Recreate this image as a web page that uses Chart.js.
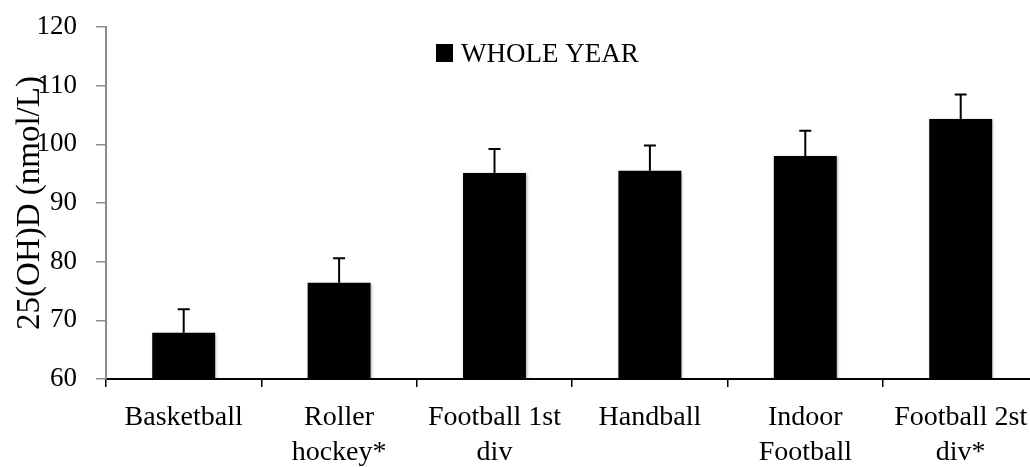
<!DOCTYPE html>
<html>
<head>
<meta charset="utf-8">
<script src="https://cdn.jsdelivr.net/npm/chart.js@4"></script>
<style>
  html, body { margin: 0; padding: 0; background: #fff; overflow: hidden; }
  #wrap { width: 1040px; height: 467px; }
</style>
</head>
<body>
<div id="wrap"><canvas id="chart" width="1040" height="467"></canvas></div>
<script>
// 25(OH)D by sport, whole year, mean + upper SD
const categories = ['Basketball', ['Roller', 'hockey*'], ['Football 1st', 'div'], 'Handball', ['Indoor', 'Football'], ['Football 2st', 'div*']];
const wholeYear = [67.9, 76.4, 95.1, 95.5, 98.0, 104.3];
const wholeYearErr = [4.0, 4.2, 4.1, 4.3, 4.3, 4.2];
const yTicks = [60, 70, 80, 90, 100, 110, 120];

const FONT = 'Liberation Serif';

// upper error bars, drawn through the y scale
const errorBars = {
  id: 'errorBars',
  afterDatasetsDraw(chart) {
    const ctx = chart.ctx;
    const meta = chart.getDatasetMeta(0);
    const y = chart.scales.y;
    ctx.save();
    ctx.strokeStyle = '#000';
    ctx.lineWidth = 2;
    meta.data.forEach((bar, i) => {
      const top = y.getPixelForValue(wholeYear[i] + wholeYearErr[i]);
      ctx.beginPath();
      ctx.moveTo(bar.x, bar.y);
      ctx.lineTo(bar.x, top);
      ctx.moveTo(bar.x - 6, top);
      ctx.lineTo(bar.x + 6, top);
      ctx.stroke();
    });
    ctx.restore();
  }
};

// legend drawn inside the plot, a bit left of centre
const innerLegend = {
  id: 'innerLegend',
  afterDraw(chart) {
    const ctx = chart.ctx;
    const ds = chart.data.datasets[0];
    ctx.save();
    ctx.fillStyle = ds.backgroundColor;
    ctx.fillRect(436, 44, 17, 18);
    ctx.fillStyle = '#000';
    ctx.font = '27px "' + FONT + '"';
    ctx.textBaseline = 'alphabetic';
    ctx.fillText(ds.label, 461, 62);
    ctx.restore();
  }
};

// soft shadow behind the bars, like the original
const barShadow = {
  id: 'barShadow',
  beforeDatasetsDraw(chart) {
    const ctx = chart.ctx;
    ctx.save();
    ctx.shadowColor = 'rgba(0,0,0,0.35)';
    ctx.shadowBlur = 3;
    ctx.shadowOffsetX = 1;
    ctx.shadowOffsetY = 1;
  },
  afterDatasetsDraw(chart) {
    chart.ctx.restore();
  }
};

function noScalePadding(scale) {
  scale.paddingTop = 0;
  scale.paddingBottom = 0;
  scale.paddingLeft = 0;
  scale.paddingRight = 0;
}

new Chart(document.getElementById('chart'), {
  type: 'bar',
  data: {
    labels: categories,
    datasets: [{
      label: 'WHOLE YEAR',
      data: wholeYear,
      backgroundColor: '#000',
      borderWidth: 0,
      barPercentage: 0.405,
      categoryPercentage: 1
    }]
  },
  options: {
    responsive: false,
    animation: false,
    devicePixelRatio: 1,
    layout: { padding: { top: 27, right: 1.6, left: 0, bottom: 0 } },
    plugins: {
      legend: { display: false },
      tooltip: { enabled: false }
    },
    scales: {
      x: {
        afterFit: scale => { scale.height = 88; noScalePadding(scale); },
        border: { color: '#000', width: 2 },
        grid: {
          offset: true,
          drawOnChartArea: false,
          tickLength: 8,
          color: '#000',
          lineWidth: 1.5
        },
        ticks: {
          color: '#000',
          padding: 13,
          maxRotation: 0,
          autoSkip: false,
          font: { family: FONT, size: 28, lineHeight: 1.25 }
        }
      },
      y: {
        min: yTicks[0],
        max: yTicks[yTicks.length - 1],
        afterFit: scale => { scale.width = 106; noScalePadding(scale); },
        afterBuildTicks: scale => { scale.ticks = yTicks.map(v => ({ value: v })); },
        border: { color: '#8c8c8c', width: 2 },
        grid: {
          drawOnChartArea: false,
          tickLength: 10,
          color: '#8c8c8c',
          lineWidth: 1.5
        },
        ticks: {
          color: '#000',
          padding: 19,
          font: { family: FONT, size: 27 }
        },
        title: {
          display: true,
          text: '25(OH)D (nmol/L)',
          color: '#000',
          padding: { top: 14, bottom: 0 },
          font: { family: FONT, size: 33, lineHeight: 1 }
        }
      }
    }
  },
  plugins: [barShadow, errorBars, innerLegend]
});
</script>
</body>
</html>
